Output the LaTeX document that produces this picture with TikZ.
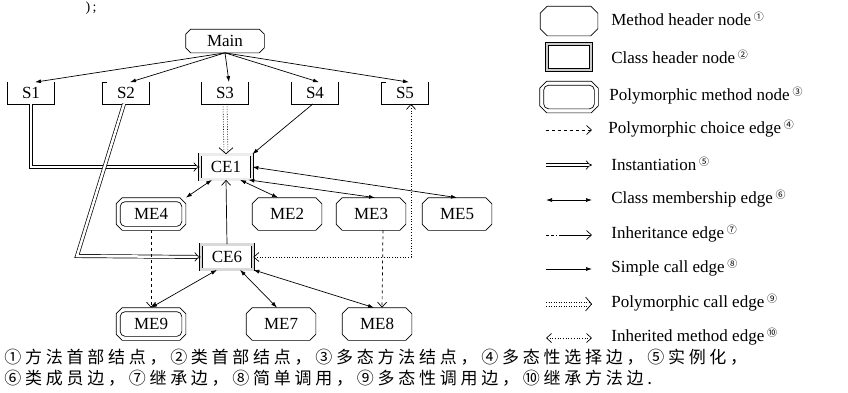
\documentclass[tikz,border=0pt]{standalone}
\usepackage{fontspec}
\setmainfont{Liberation Serif}
\newfontfamily\cjkf[LetterSpace=22]{Noto Sans CJK SC}
\newfontfamily\cjknum{Noto Sans CJK SC}
\usetikzlibrary{shapes.misc,arrows.meta}
\newcommand{\supn}[1]{\,\raisebox{5pt}{\cjknum\fontsize{10}{10}\selectfont #1}}
\newcommand{\chbox}[2]{\draw ([xshift=#2]#1.north west) -- ([xshift=-#2]#1.north east) -- ([yshift=-#2]#1.north east) -- ([yshift=#2]#1.south east) -- ([xshift=-#2]#1.south east) -- ([xshift=#2]#1.south west) -- ([yshift=#2]#1.south west) -- ([yshift=-#2]#1.north west) -- cycle;}
\newcommand{\inbox}[2]{\draw[rounded corners=5pt] ([shift={(#2,-#2)}]#1.north west) rectangle ([shift={(-#2,#2)}]#1.south east);}
\begin{document}
\begin{tikzpicture}[x=1pt,y=-1pt,line width=0.7pt,
  every node/.style={font=\fontsize{17}{20}\selectfont},
  mnode/.style={rectangle, inner sep=1pt, minimum width=69pt, minimum height=32pt},
  cnode/.style={draw, double=gray!15, double distance=2.5pt, rectangle, minimum width=52pt, minimum height=25pt, inner sep=1pt},
  snode/.style={rectangle, minimum width=46pt, minimum height=21pt, inner sep=0pt},
  simp/.style={-{Latex[length=6pt,width=4pt]}},
  memb/.style={{Latex[length=6pt,width=4pt]}-{Latex[length=6pt,width=4pt]}},
  inst/.style={double, double distance=2.5pt, -{Implies[scale=1.8]}},
  dline/.style={dash pattern=on 1pt off 1.5pt, line width=0.6pt},
  bigbarb/.style={-{Straight Barb[length=6pt,width=14pt]}},
  pchoice/.style={dashed, -{Straight Barb[length=5pt,width=9pt]}},
  inh/.style={-{Straight Barb[length=5pt,width=9pt]}},
  inhleg/.style={dash pattern=on 3pt off 2pt on 3pt off 2pt on 1pt off 2pt on 60pt off 0pt, -{Straight Barb[length=5pt,width=9pt]}},
  inhm/.style={dotted, {Straight Barb[length=5pt,width=9pt]}-{Straight Barb[length=5pt,width=9pt]}},
  legtxt/.style={anchor=west, inner sep=0pt}
]
\useasboundingbox (0,0) rectangle (848,392);

\node[inner sep=0pt, font=\fontsize{14}{14}\selectfont] (top) at (91,8) {)\,;};

% nodes
\node[mnode, minimum width=78pt, minimum height=23pt] (Main) at (225,41) {Main};
\chbox{Main}{5pt}
\foreach \n/\x in {S1/31,S2/126,S3/225,S4/315,S5/405}{
  \node[snode] (\n) at (\x,93) {\n};
  \draw (\n.north west) -- (\n.south west) -- (\n.south east) -- (\n.north east);
}
\draw (S2.north west) -- ++(4,0);
\draw (S5.north west) -- ++(4,0);

\node[cnode] (CE1) at (226,167) {CE1};
\node[cnode, double=gray!30] (CE6) at (227,257) {CE6};
\node[mnode] (ME4) at (151,214) {ME4};
\chbox{ME4}{6pt}\inbox{ME4}{4pt}
\node[mnode] (ME2) at (287,214) {ME2};
\chbox{ME2}{6pt}
\node[mnode] (ME3) at (371,214) {ME3};
\chbox{ME3}{6pt}
\node[mnode] (ME5) at (457,214) {ME5};
\chbox{ME5}{6pt}
\node[mnode] (ME9) at (151,324) {ME9};
\chbox{ME9}{6pt}\inbox{ME9}{4pt}
\node[mnode] (ME7) at (281,324) {ME7};
\chbox{ME7}{6pt}
\node[mnode] (ME8) at (377,324) {ME8};
\chbox{ME8}{6pt}

% edges
\foreach \n in {S1,S2,S3,S4,S5}{ \draw[simp] (Main.south) -- ([xshift=4pt]\n.north); }
\draw[inst] (S1.south) |- (CE1.west);
\coordinate (k2) at (77,256);
\draw[inst] ([xshift=-2pt]S2.south) -- (k2) -- (CE6.west);
\draw[dline] ([xshift=-2pt]S3.south) -- ([xshift=-2pt,yshift=1pt]CE1.north);
\draw[dline] ([xshift=2pt]S3.south) -- ([xshift=2pt,yshift=1pt]CE1.north);
\draw[bigbarb] ([yshift=1pt]CE1.north) -- (CE1.north);
\draw[simp] ([xshift=-2pt]S4.south) -- (CE1.north east);
\draw[inhm] (CE6.east) -| ([xshift=6pt]S5.south);
\draw[memb] ([xshift=-14pt]CE1.south) -- (ME4.north east);
\draw[inh] (CE6.north) -- (CE1.south);
\draw[memb] ([xshift=14pt]CE1.south) -- ([xshift=-9pt]ME2.north);
\draw[memb] ([xshift=-4pt]CE1.south east) -- ([xshift=4pt]ME3.north);
\draw[memb] (CE1.east) -- (ME5.north);
\draw[memb] ([xshift=-10pt]CE6.south) -- (ME9.north);
\draw[memb] ([xshift=13pt]CE6.south) -- ([xshift=-4pt]ME7.north);
\draw[memb] (CE6.south east) -- ([xshift=-3pt]ME8.north);
\draw[pchoice] (ME4.south) -- (ME9.north);
\draw[pchoice] ([xshift=12pt]ME3.south) -- ([xshift=5pt]ME8.north);

% legend
\node[mnode, minimum width=57pt, minimum height=29pt] (L1) at (569,21) {};
\chbox{L1}{7pt}
\node[cnode, double=gray!40, minimum width=44pt, minimum height=26pt] (L2) at (569,57) {};
\node[mnode, minimum width=58pt, minimum height=31pt] (L3) at (569,97) {};
\chbox{L3}{7pt}\inbox{L3}{4pt}
\node[legtxt] (T1) at (611,19) {Method header node\supn{①}};
\node[legtxt] (T2) at (611,57) {Class header node\supn{②}};
\node[legtxt] (T3) at (609,96) {Polymorphic method node\supn{③}};
\foreach \i/\y in {4/130,5/165,6/200,7/235,8/269,9/304,10/338}{
  \coordinate (a\i) at (546,\y);
  \coordinate (b\i) at (592,\y);
}
\draw[pchoice] (a4) -- (b4);
\draw[inst] (a5) -- (b5);
\draw[memb] (a6) -- (b6);
\draw[inhleg] (a7) -- (b7);
\draw[simp] (a8) -- (b8);
\draw[dline] ([yshift=2pt]a9) -- ([xshift=-1pt,yshift=2pt]b9);
\draw[dline] ([yshift=-2pt]a9) -- ([xshift=-1pt,yshift=-2pt]b9);
\draw[bigbarb] ([xshift=-1pt]b9) -- (b9);
\draw[inhm] (a10) -- (b10);
\node[legtxt] (T4) at (608,129) {Polymorphic choice edge\supn{④}};
\node[legtxt] (T5) at (611,164) {Instantiation\supn{⑤}};
\node[legtxt] (T6) at (611,199) {Class membership edge\supn{⑥}};
\node[legtxt] (T7) at (611,234) {Inheritance edge\supn{⑦}};
\node[legtxt] (T8) at (611,268) {Simple call edge\supn{⑧}};
\node[legtxt] (T9) at (611,303) {Polymorphic call edge\supn{⑨}};
\node[legtxt] (T10) at (611,337) {Inherited method edge\supn{⑩}};

% caption
\node[anchor=west, inner sep=0pt, font=\cjkf\fontsize{17}{17}\selectfont] (C1) at (4,357) {①方法首部结点，②类首部结点，③多态方法结点，④多态性选择边，⑤实例化，};
\node[anchor=west, inner sep=0pt, font=\cjkf\fontsize{17}{17}\selectfont] (C2) at (4,378) {⑥类成员边，⑦继承边，⑧简单调用，⑨多态性调用边，⑩继承方法边.};
\end{tikzpicture}
\end{document}
